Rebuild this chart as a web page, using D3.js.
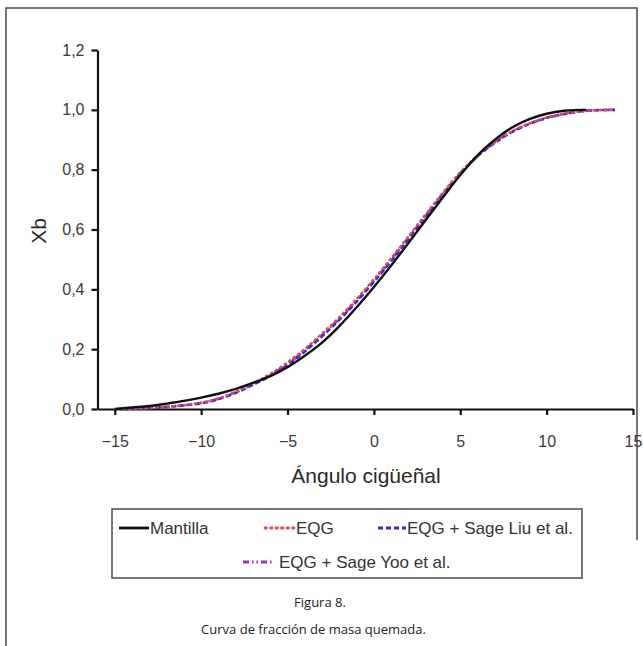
<!DOCTYPE html>
<html>
<head>
<meta charset="utf-8">
<script src="https://cdn.jsdelivr.net/npm/d3@7"></script>
<style>
  html, body { margin: 0; padding: 0; background: #fff; }
  svg { display: block; }
</style>
</head>
<body>
<svg id="chart" width="643" height="646"></svg>
<script>
// Crank angle (degrees) and burned mass fraction for each model
const angleMantilla = [-15, -14, -13, -12, -11, -10, -9, -8, -7, -6, -5, -4, -3, -2, -1, 0, 1, 2, 3, 4, 5, 6, 7, 8, 9, 10, 11, 12, 12.3];
const xbMantilla    = [0.000, 0.005, 0.010, 0.018, 0.027, 0.038, 0.051, 0.067, 0.087, 0.110, 0.140, 0.178, 0.222, 0.277, 0.340, 0.408, 0.480, 0.555, 0.632, 0.708, 0.782, 0.848, 0.900, 0.941, 0.969, 0.987, 0.997, 1.000, 1.000];

const angleEqg = [-14.5, -14, -13, -12, -11, -10, -9, -8, -7, -6, -5, -4, -3, -2, -1, 0, 1, 2, 3, 4, 5, 6, 7, 8, 9, 10, 11, 12, 13, 14];
const xbEqg     = [0.000, 0.001, 0.004, 0.008, 0.013, 0.021, 0.036, 0.058, 0.086, 0.117, 0.156, 0.201, 0.252, 0.307, 0.368, 0.434, 0.504, 0.577, 0.651, 0.724, 0.791, 0.848, 0.893, 0.928, 0.955, 0.974, 0.987, 0.995, 0.999, 1.000];
const xbSageLiu = [0.000, 0.001, 0.003, 0.007, 0.012, 0.019, 0.033, 0.054, 0.081, 0.110, 0.147, 0.192, 0.243, 0.298, 0.359, 0.425, 0.495, 0.568, 0.643, 0.717, 0.786, 0.845, 0.890, 0.926, 0.953, 0.973, 0.986, 0.995, 0.999, 1.000];
const xbSageYoo = [0.000, 0.001, 0.003, 0.007, 0.012, 0.020, 0.034, 0.056, 0.083, 0.113, 0.151, 0.196, 0.247, 0.302, 0.363, 0.429, 0.499, 0.572, 0.647, 0.720, 0.788, 0.846, 0.891, 0.927, 0.954, 0.973, 0.986, 0.995, 0.999, 1.000];

const xTicks = [-15, -10, -5, 0, 5, 10, 15];
const yTicks = [0, 0.2, 0.4, 0.6, 0.8, 1.0, 1.2];

const legendRow1 = ["Mantilla", "EQG", "EQG + Sage Liu et al."];
const legendRow2 = ["EQG + Sage Yoo et al."];
const captionLines = ["Figura 8.", "Curva de fracción de masa quemada."];

const series = [
  { name: "EQG + Sage Yoo et al.", x: angleEqg, y: xbSageYoo, color: "#9a2fd0", width: 2.6, dash: "6,3,1.5,3,1.5,3" },
  { name: "EQG + Sage Liu et al.", x: angleEqg, y: xbSageLiu, color: "#2a2fd8", width: 2.6, dash: "5,3" },
  { name: "EQG",                   x: angleEqg, y: xbEqg,     color: "#e8484f", width: 2.4, dash: "1.5,4" },
  { name: "Mantilla",              x: angleMantilla, y: xbMantilla, color: "#111", width: 2.4, dash: null }
];

const svg = d3.select("#chart");
const fmt = d3.formatLocale({ decimal: ",", thousands: ".", grouping: [3], currency: ["", ""], minus: "\u2212" });
const fmtY = fmt.format(".1f");
const fmtX = fmt.format("d");
const sans = "'Liberation Sans', Arial, sans-serif";

// Frame around the figure
const frame = svg.append("g").attr("stroke", "#4a4a4a").attr("stroke-width", 1.5).attr("fill", "none");
frame.append("path").attr("d", "M6,646 L6,8 L637,8 L637,540");

const x = d3.scaleLinear().domain([-16, 15]).range([97.5, 633]);
const y = d3.scaleLinear().domain([0, 1.2]).range([409, 50]);

// Axes
const xAxis = svg.append("g").attr("transform", "translate(0,409)")
  .call(d3.axisBottom(x).tickValues(xTicks).tickFormat(fmtX).tickSize(6).tickSizeOuter(0).tickPadding(21));
const yAxis = svg.append("g").attr("transform", "translate(97.5,0)")
  .call(d3.axisLeft(y).tickValues(yTicks).tickFormat(fmtY).tickSize(6).tickSizeOuter(0).tickPadding(7));

[xAxis, yAxis].forEach(g => {
  g.select(".domain").attr("stroke", "#111").attr("stroke-width", 2.2);
  g.selectAll(".tick line").attr("stroke", "#111").attr("stroke-width", 2.2);
  g.selectAll(".tick text").attr("fill", "#3a3a3a")
    .style("font-family", sans).style("font-size", "16px");
});

// Axis titles
svg.append("text").attr("x", 366).attr("y", 483).attr("text-anchor", "middle")
  .style("font-family", sans).style("font-size", "21px").attr("fill", "#2a2a2a")
  .text("Ángulo cigüeñal");
svg.append("text").attr("transform", "translate(46,231) rotate(-90)").attr("text-anchor", "middle")
  .style("font-family", sans).style("font-size", "21px").attr("fill", "#2a2a2a")
  .text("Xb");

// Curves
const isDotted = s => s.dash && s.dash.startsWith("1.5");
const line = d3.line().curve(d3.curveMonotoneX);
series.forEach(s => {
  const pts = s.x.map((a, i) => [x(a), y(s.y[i])]);
  svg.append("path")
    .attr("d", line(pts))
    .attr("fill", "none")
    .attr("stroke", s.color)
    .attr("stroke-width", s.width)
    .attr("stroke-dasharray", s.dash)
    .attr("stroke-linecap", isDotted(s) ? "round" : "butt");
});

// Legend
const lg = svg.append("g");
lg.append("rect").attr("x", 112).attr("y", 509).attr("width", 470).attr("height", 69)
  .attr("fill", "#fff").attr("stroke", "#555").attr("stroke-width", 1.6);

const byName = Object.fromEntries(series.map(s => [s.name, s]));
const legendItems = [
  { name: legendRow1[0], x0: 119, x1: 149, tx: 150, ty: 528 },
  { name: legendRow1[1], x0: 265, x1: 294, tx: 296, ty: 528 },
  { name: legendRow1[2], x0: 378, x1: 406, tx: 407, ty: 528 },
  { name: legendRow2[0], x0: 243, x1: 272, tx: 279, ty: 562 }
];
legendItems.forEach(it => {
  const s = byName[it.name];
  lg.append("line").attr("x1", it.x0).attr("x2", it.x1).attr("y1", it.ty).attr("y2", it.ty)
    .attr("stroke", s.color).attr("stroke-width", s.width + 0.4)
    .attr("stroke-dasharray", s.dash)
    .attr("stroke-linecap", isDotted(s) ? "round" : "butt");
  lg.append("text").attr("x", it.tx).attr("y", it.ty).attr("dy", "0.35em")
    .style("font-family", sans).style("font-size", "17px").attr("fill", "#333")
    .text(it.name);
});

// Caption
svg.append("text").attr("x", 320).attr("y", 607).attr("text-anchor", "middle")
  .style("font-family", "'Open Sans', 'Noto Sans', sans-serif").style("font-size", "13px").attr("fill", "#222")
  .text(captionLines[0]);
svg.append("text").attr("x", 313.5).attr("y", 634).attr("text-anchor", "middle")
  .style("font-family", "'Open Sans', 'Noto Sans', sans-serif").style("font-size", "13px").attr("fill", "#222")
  .text(captionLines[1]);
</script>
</body>
</html>
